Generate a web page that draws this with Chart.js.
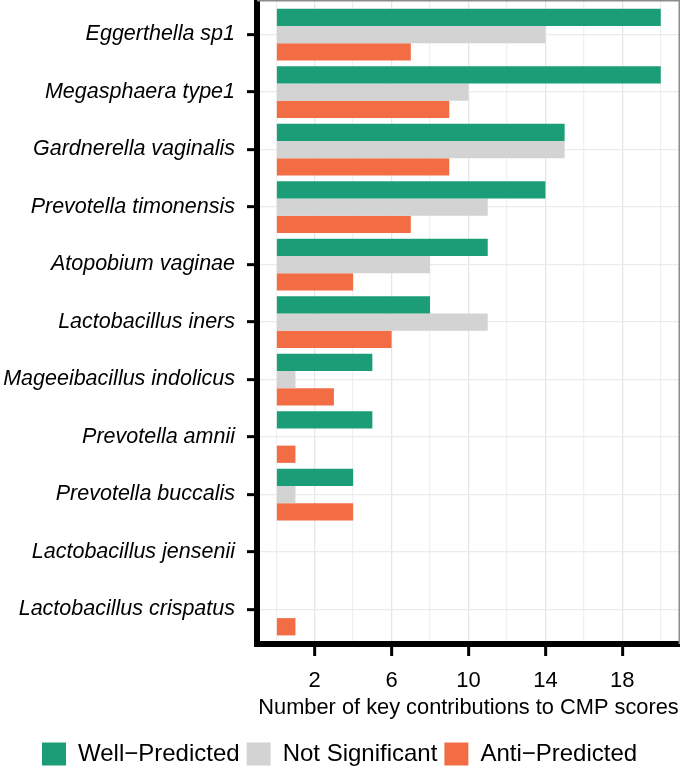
<!DOCTYPE html>
<html>
<head>
<meta charset="utf-8">
<script src="https://cdn.jsdelivr.net/npm/chart.js@4.4.0/dist/chart.umd.min.js"></script>
<style>
  html, body { margin: 0; padding: 0; background: #fff; }
</style>
</head>
<body>
<canvas id="chart" width="680" height="772"></canvas>
<script>
// Data
const species = [
    'Eggerthella sp1',
    'Megasphaera type1',
    'Gardnerella vaginalis',
    'Prevotella timonensis',
    'Atopobium vaginae',
    'Lactobacillus iners',
    'Mageeibacillus indolicus',
    'Prevotella amnii',
    'Prevotella buccalis',
    'Lactobacillus jensenii',
    'Lactobacillus crispatus'
];
const wellPredicted  = [20, 20, 15, 14, 11, 8, 5, 5, 4, 0, 0];
const notSignificant = [14, 10, 15, 11, 8, 11, 1, 0, 1, 0, 0];
const antiPredicted  = [7, 9, 9, 7, 4, 6, 3, 1, 4, 0, 1];

const xTickLabels = [2, 6, 10, 14, 18];
const xGridValues = [0, 2, 4, 6, 8, 10, 12, 14, 16, 18, 20];

const FONT = "'Liberation Sans', Arial, Helvetica, sans-serif";
Chart.defaults.color = '#000';
Chart.defaults.font.family = FONT;

// legend placement + thin grey panel border on top and right
const panelBorder = {
    id: 'panelBorder',
    afterLayout(chart) {
        const lg = chart.legend;
        if (!lg) return;
        const h = lg.height;
        lg.left += 35;
        lg.right += 35;
        lg.top = 735;
        lg.bottom = 735 + h;
    },
    afterDatasetsDraw(chart) {
        const { ctx, chartArea } = chart;
        ctx.save();
        ctx.strokeStyle = '#8c8c8c';
        ctx.lineWidth = 1.5;
        ctx.beginPath();
        ctx.moveTo(chartArea.left, 0.75);
        ctx.lineTo(chartArea.right - 0.75, 0.75);
        ctx.lineTo(chartArea.right - 0.75, chartArea.bottom);
        ctx.stroke();
        ctx.restore();
    }
};

const isMajor = v => xTickLabels.includes(v);

new Chart(document.getElementById('chart'), {
    type: 'bar',
    data: {
        labels: species,
        datasets: [
            { label: 'Well\u2212Predicted', data: wellPredicted, backgroundColor: '#1b9e77', borderWidth: 0 },
            { label: 'Not Significant', data: notSignificant, backgroundColor: '#d3d3d3', borderWidth: 0 },
            { label: 'Anti\u2212Predicted', data: antiPredicted, backgroundColor: '#f26d44', borderWidth: 0 }
        ]
    },
    options: {
        indexAxis: 'y',
        responsive: false,
        animation: false,
        devicePixelRatio: 1,
        categoryPercentage: 0.9,
        barPercentage: 1.0,
        layout: { autoPadding: false, padding: 0 },
        scales: {
            x: {
                type: 'linear',
                min: -1,
                max: 21,
                afterBuildTicks: scale => {
                    scale.ticks = xGridValues.map(v => ({ value: v }));
                },
                afterFit: scale => {
                    scale.height = 87;
                    scale.paddingLeft = 0;
                    scale.paddingRight = 0;
                },
                ticks: {
                    autoSkip: false,
                    maxRotation: 0,
                    padding: 12,
                    font: { size: 22 },
                    callback: v => isMajor(v) ? String(v) : ''
                },
                grid: {
                    color: ctx => isMajor(ctx.tick && ctx.tick.value) ? '#e6e6e6' : '#f0f0f0',
                    lineWidth: 1.3,
                    tickLength: 12,
                    tickWidth: 3,
                    tickColor: ctx => isMajor(ctx.tick && ctx.tick.value) ? '#000' : 'rgba(0,0,0,0)'
                },
                border: { color: '#000', width: 6 },
                title: {
                    display: true,
                    text: 'Number of key contributions to CMP scores',
                    font: { size: 21.8 },
                    padding: { top: 4, bottom: 10 }
                }
            },
            y: {
                offset: true,
                afterFit: scale => {
                    scale.width = 257;
                    scale.paddingTop = 0;
                    scale.paddingBottom = 0;
                },
                // ggplot keeps 0.6 of a category free at both ends
                afterUpdate: scale => {
                    scale._startValue = -0.6;
                    scale._valueRange = species.length + 0.2;
                },
                ticks: {
                    padding: 12,
                    font: { size: 21.5, style: 'italic' }
                },
                grid: {
                    offset: false,
                    color: '#ebebeb',
                    lineWidth: 1.3,
                    tickLength: 10,
                    tickWidth: 3,
                    tickColor: '#000'
                },
                border: { color: '#000', width: 6 }
            }
        },
        plugins: {
            legend: {
                position: 'bottom',
                align: 'start',
                labels: {
                    boxWidth: 24,
                    boxHeight: 23,
                    padding: 7,
                    font: { size: 24 }
                }
            },
            tooltip: { enabled: false }
        }
    },
    plugins: [panelBorder]
});
</script>
</body>
</html>
